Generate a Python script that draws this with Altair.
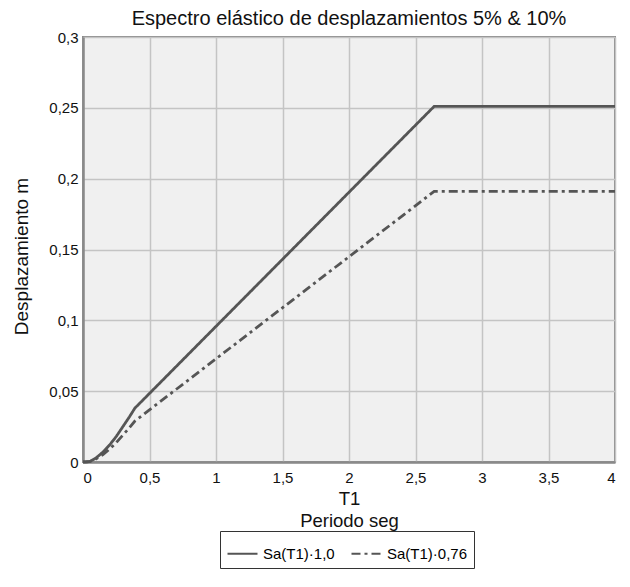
import altair as alt
import pandas as pd

periods = [0.0, 0.05, 0.1, 0.15, 0.2, 0.25, 0.3, 0.35, 0.39, 2.64, 4.0]
sd_100 = [0.0, 0.0003, 0.003, 0.007, 0.012, 0.018, 0.025, 0.032, 0.038, 0.251, 0.251]
sd_076 = [0.0, 0.0002, 0.0023, 0.0053, 0.0091, 0.0137, 0.019, 0.0243, 0.0289, 0.191, 0.191]
series_names = ["Sa(T1)·1,0", "Sa(T1)·0,76"]

rows = []
for i, t in enumerate(periods):
    rows.append({"T": t, "Sd": sd_100[i], "serie": series_names[0], "ord": i})
    rows.append({"T": t, "Sd": sd_076[i], "serie": series_names[1], "ord": i})
df = pd.DataFrame(rows)

fmt = "replace(format(datum.value, '~g'), '.', ',')"

chart = alt.Chart(df).mark_line(strokeWidth=2.8, color="#555555").encode(
    x=alt.X("T:Q", scale=alt.Scale(domain=[0, 4], nice=False),
            axis=alt.Axis(values=[0, 0.5, 1, 1.5, 2, 2.5, 3, 3.5, 4],
                          labelExpr=fmt, title=["T1", "Periodo seg"],
                          titleLineHeight=22, titlePadding=4, labelPadding=8)),
    y=alt.Y("Sd:Q", scale=alt.Scale(domain=[0, 0.3], nice=False),
            axis=alt.Axis(values=[0, 0.05, 0.1, 0.15, 0.2, 0.25, 0.3],
                          labelExpr=fmt, title="Desplazamiento m",
                          titlePadding=17, labelPadding=5, titleY=219,
                          titleFontSize=19)),
    strokeDash=alt.StrokeDash("serie:N",
        scale=alt.Scale(domain=series_names, range=[[1, 0], [9, 4, 3, 4]]),
        legend=alt.Legend(title=None, orient="none", direction="horizontal",
                          legendX=137, legendY=494, symbolType="stroke",
                          symbolSize=900, symbolStrokeWidth=2.2,
                          symbolStrokeColor="#555555", symbolDash=[4, 3],
                          strokeColor="#333333", padding=6,
                          labelFontSize=15, labelOffset=4, columnPadding=12)),
    order="ord:Q",
).properties(
    width=532, height=425,
    title=alt.Title("Espectro elástico de desplazamientos 5% & 10%",
                    fontSize=20, fontWeight="normal", color="#111111",
                    offset=1),
    autosize="none",
    padding={"left": 75, "top": 29, "right": 5, "bottom": 112},
).configure(
    font="Liberation Sans",
).configure_view(
    fill="#f0f0f0", stroke="#8a8a8a", strokeWidth=2,
).configure_axis(
    grid=True, gridColor="#c4c4c4", gridWidth=1.5, ticks=False,
    domain=True, domainColor="#8a8a8a", domainWidth=2.5,
    labelFontSize=15, labelColor="#111111", titleFontSize=18.5,
    titleFontWeight="normal", titleColor="#111111",
)

chart.save("out.html", embed_options={"renderer": "svg", "actions": False})
